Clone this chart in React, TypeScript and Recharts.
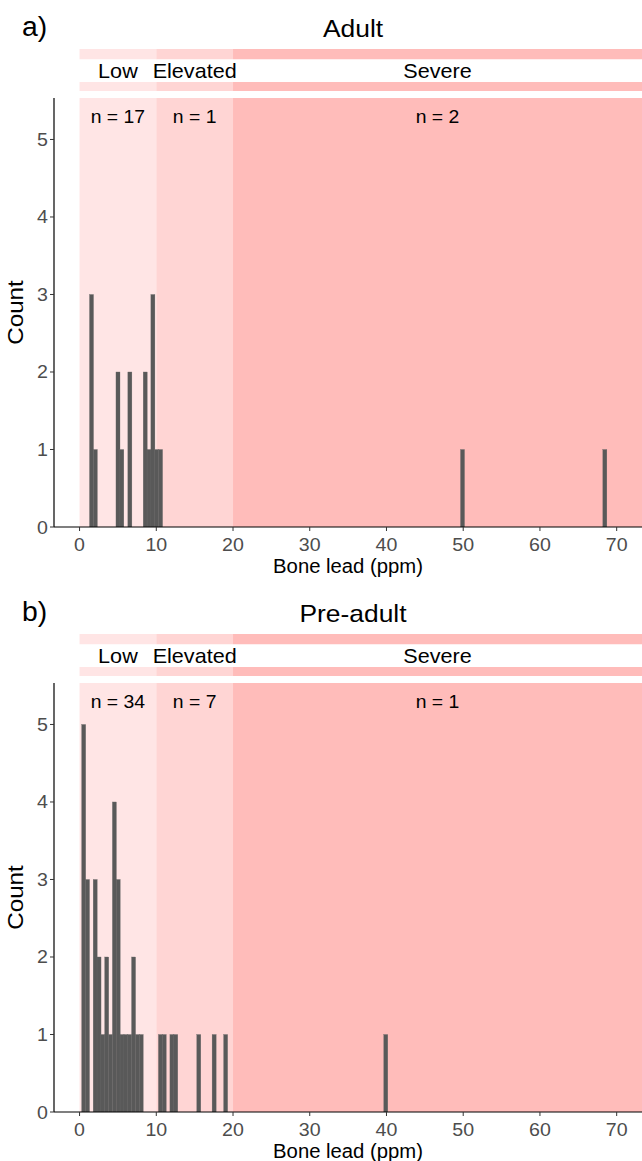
import React from "react";
import {
  ComposedChart,
  Bar,
  XAxis,
  YAxis,
  ReferenceArea,
} from "recharts";

// zones (ppm)
const zoneNames = ["Low", "Elevated", "Severe"];
const zoneFrom = [0, 10, 20];
const zoneTo = [10, 20, null];
const zoneFill = ["#ffe5e5", "#ffd5d4", "#ffbcba"];

// adult histogram (bin centre, count)
const adultBins = [1.6, 2.1, 5.05, 5.55, 6.6, 8.6, 9.1, 9.6, 10.1, 10.6, 49.95, 68.5];
const adultCounts = [3, 1, 2, 1, 2, 2, 1, 3, 1, 1, 1, 1];
const adultN = [17, 1, 2];

// pre-adult histogram
const preBins = [
  0.58, 1.08, 2.08, 2.58, 3.08, 3.58, 4.08, 4.58, 5.08, 5.58, 6.08, 6.58, 7.08,
  7.58, 8.08, 10.58, 11.08, 12.08, 12.58, 15.58, 17.58, 19.08, 39.95,
];
const preCounts = [5, 3, 3, 2, 1, 2, 1, 4, 3, 1, 1, 1, 2, 1, 1, 1, 1, 1, 1, 1, 1, 1, 1];
const preN = [34, 7, 1];

const xTicks = [0, 10, 20, 30, 40, 50, 60, 70];
const yTicks = [0, 1, 2, 3, 4, 5];
const BIN = 0.5;

const W = 642;
const LEFT = 54;
const X_MIN = -3.33;
const X_MAX = 73.3;
const Y_MAX = 5.535;
const PLOT_H = 429;
const XAXIS_H = 52;
const FONT = "'Liberation Sans', Arial, sans-serif";

// one bin in pixels
const binPx = (BIN * (W - LEFT)) / (X_MAX - X_MIN);

const SText = ({ x, y, anchor = "middle", size = 19, sx = 1.08, fill = "#000", children }: any) => (
  <text
    transform={`translate(${x} ${y}) scale(${sx} 1)`}
    textAnchor={anchor}
    fontSize={size}
    fontFamily={FONT}
    fill={fill}
  >
    {children}
  </text>
);

const XTick = (p: any) => (
  <SText x={p.x} y={p.y + 18} size={18.5} sx={1.06} fill="#4d4d4d">
    {p.payload.value}
  </SText>
);

const YTick = (p: any) => (
  <SText x={p.x} y={p.y + 6.5} anchor="end" size={18.5} sx={1.06} fill="#4d4d4d">
    {p.payload.value}
  </SText>
);

// histogram column: centred on the bin, one bin wide
const HistBar = (p: any) => {
  const cx = p.x + p.width / 2;
  return (
    <rect
      x={cx - binPx / 2}
      y={p.y}
      width={binPx + 0.2}
      height={p.height}
      fill="#595959"
      stroke="#6a6a6a"
      strokeWidth={0.3}
    />
  );
};

const Panel = ({ tag, title, bins, counts, ns, top }: any) => {
  const data = bins.map((b: number, i: number) => ({ x: b, count: counts[i] }));
  return (
    <div style={{ position: "absolute", left: 0, top, width: W, height: 580 }}>
      <svg width={W} height={49} style={{ position: "absolute", left: 0, top: 0 }}>
        <SText x={22} y={36} anchor="start" size={27} sx={1.05}>
          {tag}
        </SText>
        <SText x={353} y={37} size={24} sx={1.1}>
          {title}
        </SText>
      </svg>

      <div style={{ position: "absolute", left: 0, top: 49 }}>
        <ComposedChart
          width={W}
          height={42}
          data={data}
          margin={{ top: 0, right: 0, bottom: 0, left: LEFT }}
        >
          <XAxis type="number" dataKey="x" domain={[X_MIN, X_MAX]} allowDataOverflow hide />
          <YAxis type="number" domain={[0, 42]} allowDataOverflow hide />
          {zoneNames.map((z, i) => (
            <ReferenceArea
              key={"t" + z}
              x1={zoneFrom[i]}
              x2={zoneTo[i] ?? X_MAX}
              y1={31.7}
              y2={42}
              fill={zoneFill[i]}
              fillOpacity={1}
              stroke="none"
            />
          ))}
          {zoneNames.map((z, i) => (
            <ReferenceArea
              key={"b" + z}
              x1={zoneFrom[i]}
              x2={zoneTo[i] ?? X_MAX}
              y1={0}
              y2={9}
              fill={zoneFill[i]}
              fillOpacity={1}
              stroke="none"
            />
          ))}
          {zoneNames.map((z, i) => (
            <ReferenceArea
              key={"l" + z}
              x1={zoneFrom[i]}
              x2={zoneTo[i] ?? X_MAX}
              y1={9}
              y2={31.7}
              fill="none"
              stroke="none"
              label={(p: any) => {
                const vb = p.viewBox;
                return (
                  <SText x={vb.x + vb.width / 2} y={vb.y + vb.height / 2 + 7} size={20} sx={1.08}>
                    {z}
                  </SText>
                );
              }}
            />
          ))}
        </ComposedChart>
      </div>

      <div style={{ position: "absolute", left: 0, top: 98 }}>
        <ComposedChart
          width={W}
          height={PLOT_H + XAXIS_H}
          data={data}
          margin={{ top: 0, right: 0, bottom: 0, left: 0 }}
        >
          {zoneNames.map((z, i) => (
            <ReferenceArea
              key={z}
              x1={zoneFrom[i]}
              x2={zoneTo[i] ?? X_MAX}
              fill={zoneFill[i]}
              fillOpacity={1}
              stroke="none"
              label={(p: any) => {
                const vb = p.viewBox;
                return (
                  <SText x={vb.x + vb.width / 2} y={vb.y + 25} size={19} sx={1.02}>
                    {"n = " + ns[i]}
                  </SText>
                );
              }}
            />
          ))}
          <XAxis
            type="number"
            dataKey="x"
            domain={[X_MIN, X_MAX]}
            allowDataOverflow
            ticks={xTicks}
            interval={0}
            height={XAXIS_H}
            tickSize={4}
            tick={<XTick />}
            axisLine={{ stroke: "#000", strokeWidth: 1.2 }}
            tickLine={{ stroke: "#333" }}
            label={(p: any) => {
              const vb = p.viewBox;
              return (
                <SText x={vb.x + vb.width / 2} y={vb.y + 46} size={19.5} sx={1.04}>
                  Bone lead (ppm)
                </SText>
              );
            }}
          />
          <YAxis
            type="number"
            domain={[0, Y_MAX]}
            allowDataOverflow
            ticks={yTicks}
            interval={0}
            width={LEFT}
            tickSize={4}
            tick={<YTick />}
            axisLine={{ stroke: "#000", strokeWidth: 1.2 }}
            tickLine={{ stroke: "#333" }}
            label={(p: any) => {
              const vb = p.viewBox;
              const cy = vb.y + vb.height / 2;
              return (
                <text
                  transform={`translate(23 ${cy}) rotate(-90) scale(1.1 1)`}
                  textAnchor="middle"
                  fontSize={22}
                  fontFamily={FONT}
                >
                  Count
                </text>
              );
            }}
          />
          <Bar
            dataKey="count"
            fill="#595959"
            barSize={3}
            shape={<HistBar />}
            isAnimationActive={false}
          />
        </ComposedChart>
      </div>
    </div>
  );
};

export default function App() {
  return (
    <div
      style={{
        position: "absolute",
        left: 0,
        top: 0,
        width: W,
        height: 1161,
        background: "#fff",
        overflow: "hidden",
      }}
    >
      <Panel tag="a)" title="Adult" bins={adultBins} counts={adultCounts} ns={adultN} top={0} />
      <Panel tag="b)" title="Pre-adult" bins={preBins} counts={preCounts} ns={preN} top={585} />
    </div>
  );
}
